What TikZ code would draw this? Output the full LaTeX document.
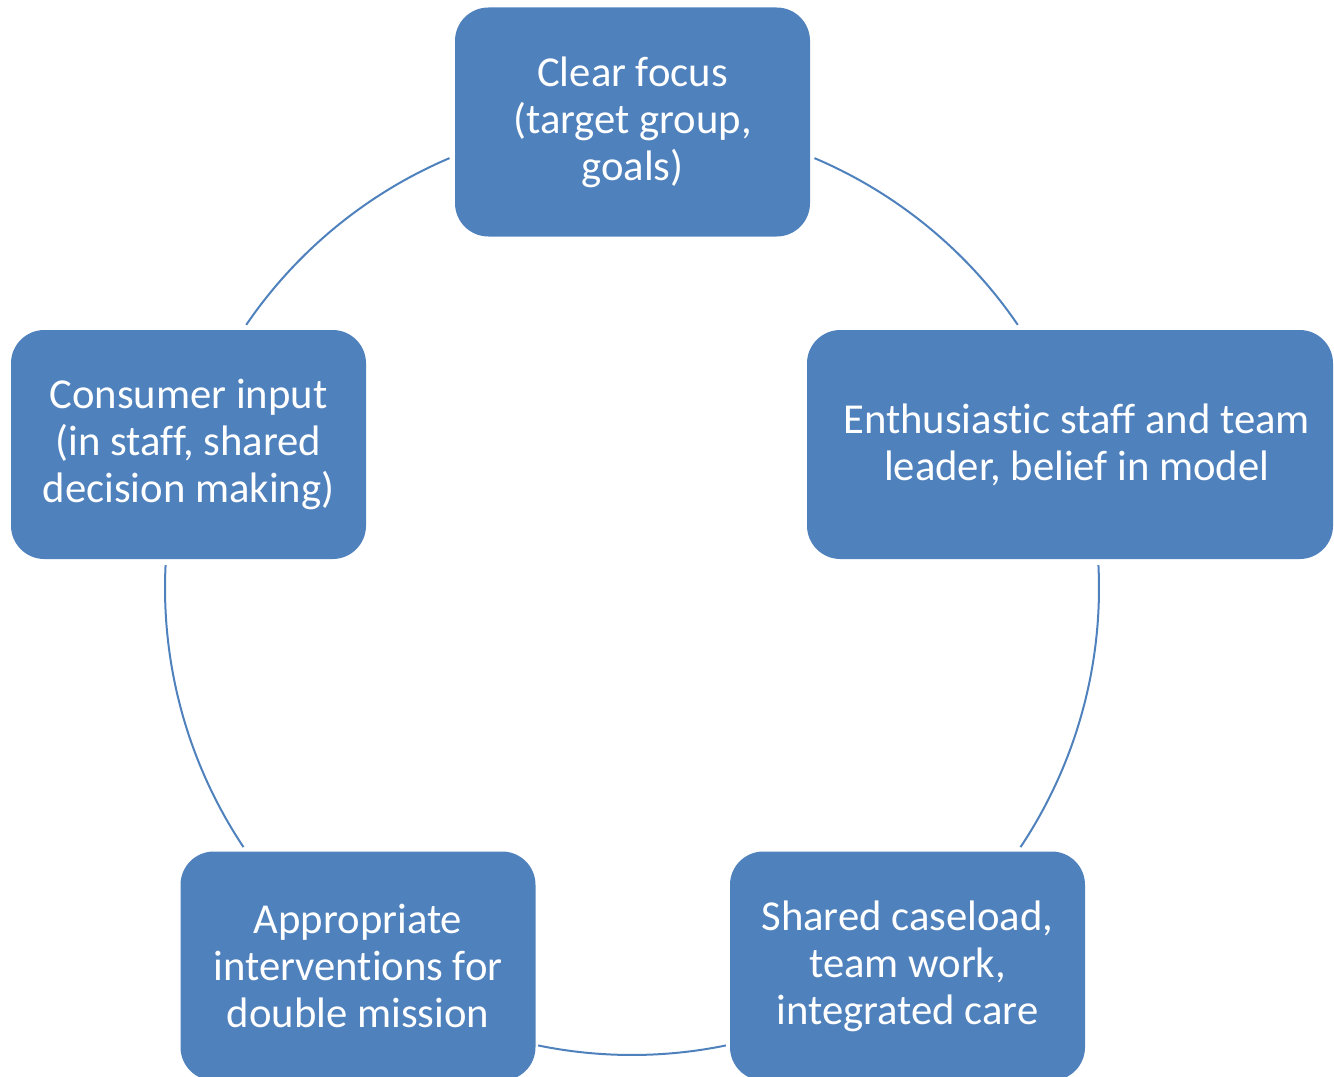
\documentclass[tikz,border=0pt]{standalone}
\usepackage{fontspec}
\setmainfont{Carlito}[Ligatures=NoCommon]
\usetikzlibrary{calc}
\definecolor{boxblue}{HTML}{4F81BD}
\begin{document}
\begin{tikzpicture}[x=0.75pt,y=-0.75pt,
  cyclebox/.style={fill=boxblue, draw=none, rounded corners=25pt, text=white,
    minimum width=266.25pt, minimum height=171.75pt, align=center,
    font=\fontsize{32pt}{35.25pt}\selectfont, inner sep=0pt},
  link/.style={draw=boxblue, line width=1.5pt}]
\useasboundingbox (0,0) rectangle (1334,1077);
\clip (0,0) rectangle (1334,1077);
\coordinate (O) at (632,588);
% arcs
\coordinate (a1) at ($(O)+(67:350.25pt)$);
\coordinate (a2) at ($(O)+(2.8:350.25pt)$);
\coordinate (a3) at ($(O)+(-78.4:350.25pt)$);
\coordinate (a4) at ($(O)+(213.7:350.25pt)$);
\coordinate (a5) at ($(O)+(145.7:350.25pt)$);
\draw[link] (a1) arc[start angle=67, end angle=34.3, radius=350.25pt];
\draw[link] (a2) arc[start angle=2.8, end angle=-33.7, radius=350.25pt];
\draw[link] (a3) arc[start angle=-78.4, end angle=-101.6, radius=350.25pt];
\draw[link] (a4) arc[start angle=213.7, end angle=177.2, radius=350.25pt];
\draw[link] (a5) arc[start angle=145.7, end angle=113, radius=350.25pt];
% boxes
\node[cyclebox] (focus) at (632.5,122) {Clear focus\\(target group,\\goals)};
\node[cyclebox, minimum width=394.5pt] (staff) at (1070,444.5) {\hspace*{10pt}Enthusiastic staff and team\\\hspace*{10pt}leader, belief in model};
\node[cyclebox] (caseload) at (907.5,966) {Shared caseload,\\team work,\\integrated care};
\node[cyclebox] (interv) at (358,966) {Appropriate\\interventions for\\double mission};
\node[cyclebox] (consumer) at (188.5,444.5) {Consumer input\\(in staff, shared\\decision making)};
\end{tikzpicture}
\end{document}
